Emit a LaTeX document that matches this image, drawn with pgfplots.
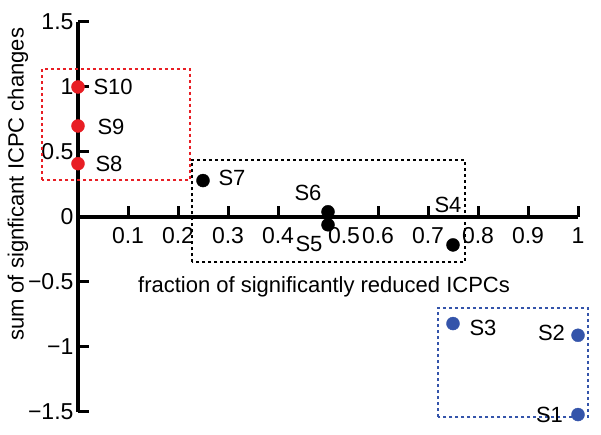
\documentclass[border=0pt]{standalone}
\usepackage{pgfplots}
\pgfplotsset{compat=1.18}
\usepackage{fontspec}
\setmainfont{Liberation Sans}
\definecolor{myred}{RGB}{232,30,36}
\definecolor{myblue}{RGB}{52,84,170}
\begin{document}
\fontsize{22}{26}\selectfont
\begin{tikzpicture}
\begin{axis}[
  scale only axis,
  width=500pt, height=390pt,
  xmin=0, xmax=1, ymin=-1.5, ymax=1.5,
  axis lines=middle,
  axis line style={-, line width=3.2pt},
  clip=false,
  hide obscured y ticks=false,
  tick align=inside,
  major tick length=11pt,
  every tick/.style={black, line width=3pt},
  xtick={0.1,0.2,0.3,0.4,0.5,0.6,0.7,0.8,0.9,1},
  xticklabels={0.1,0.2,0.3,0.4,\hspace*{32pt}0.5,0.6,0.7,0.8,0.9,1},
  ytick={-1.5,-1,-0.5,0,0.5,1,1.5},
  yticklabels={−1.5,−1,−0.5,0,0.5,1,1.5},
  tick label style={font=\fontsize{23}{27}\selectfont},
  xticklabel style={yshift=-3pt},
  yticklabel style={xshift=3pt},
  /pgf/number format/assume math mode=true,
]
% bounding box
\path (axis cs:-0.156,-1.677) rectangle (axis cs:1.046,1.669);
% boxes
\draw[myred, line width=2pt, dash pattern=on 3pt off 3pt] (axis cs:-0.072,0.285) rectangle (axis cs:0.224,1.14);
\draw[black, line width=2pt, dash pattern=on 3pt off 3pt] (axis cs:0.228,-0.35) rectangle (axis cs:0.774,0.44);
\draw[myblue, line width=2pt, dash pattern=on 3pt off 3pt] (axis cs:0.72,-1.54) rectangle (axis cs:1.02,-0.70);
% points
\addplot[only marks, mark=*, mark size=6.5pt, myred, mark options={draw=myred, fill=myred}] coordinates {(0,1.0) (0,0.7) (0,0.41)};
\addplot[only marks, mark=*, mark size=6.5pt, black] coordinates {(0.25,0.28) (0.5,0.04) (0.5,-0.06) (0.75,-0.215)};
\addplot[only marks, mark=*, mark size=6.5pt, myblue, mark options={draw=myblue, fill=myblue}] coordinates {(0.75,-0.82) (1.0,-0.91) (1.0,-1.52)};
% labels
\node[anchor=west] at (axis cs:0.016,1.0) {S10};
\node[anchor=west] at (axis cs:0.024,0.69) {S9};
\node[anchor=west] at (axis cs:0.020,0.41) {S8};
\node[anchor=west] at (axis cs:0.266,0.30) {S7};
\node at (axis cs:0.46,0.185) {S6};
\node at (axis cs:0.462,-0.21) {S5};
\node at (axis cs:0.74,0.09) {S4};
\node at (axis cs:0.81,-0.85) {S3};
\node at (axis cs:0.947,-0.89) {S2};
\node at (axis cs:0.943,-1.52) {S1};
% axis labels
\node at (axis cs:0.492,-0.54) {fraction of significantly reduced ICPCs};
\node[rotate=90] at (axis cs:-0.12,0.25) {sum of signficant ICPC changes};
\end{axis}
\end{tikzpicture}
\end{document}
